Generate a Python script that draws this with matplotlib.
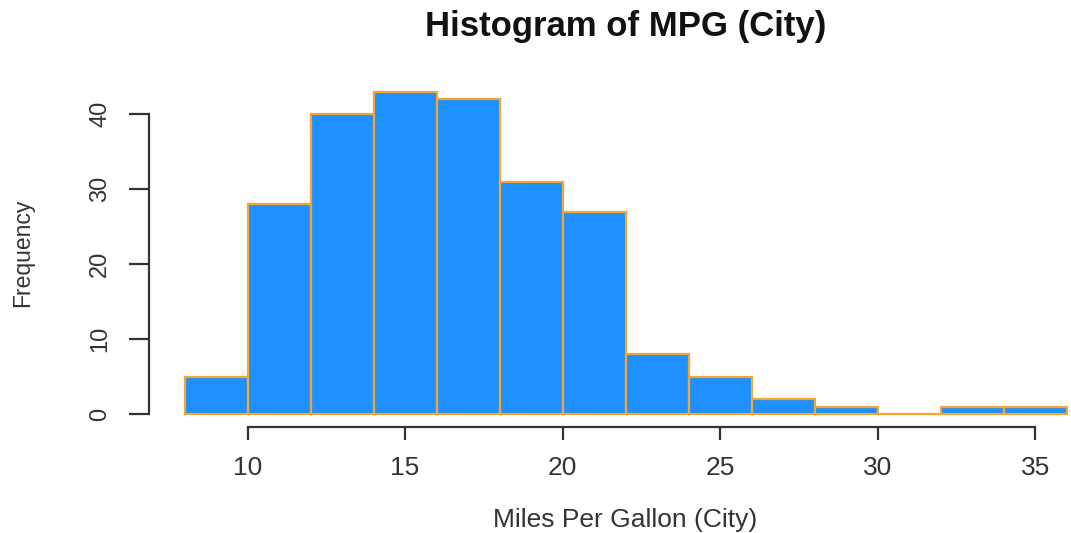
import matplotlib
matplotlib.use("Agg")
import matplotlib.pyplot as plt
import numpy as np

# Data
bin_edges = [8, 10, 12, 14, 16, 18, 20, 22, 24, 26, 28, 30, 32, 34, 36]
counts = [5, 28, 40, 43, 42, 31, 27, 8, 5, 2, 1, 0, 1, 1]
x_ticks = [10, 15, 20, 25, 30, 35]
y_ticks = [0, 10, 20, 30, 40]
title = "Histogram of MPG (City)"
xlabel = "Miles Per Gallon (City)"
ylabel = "Frequency"

plt.rcParams['font.family'] = ['Liberation Sans', 'DejaVu Sans']

W, H = 1071, 533
fig = plt.figure(figsize=(W / 100, H / 100), dpi=100)
# axes placed in pixel terms (R-style plot region, right side cropped)
left_px, right_px, top_px, bottom_px = 149.3, 1101.9, 78.6, 427.2
ax = fig.add_axes([left_px / W, 1 - bottom_px / H,
                   (right_px - left_px) / W, (bottom_px - top_px) / H])

lefts = np.array(bin_edges[:-1])
widths = np.diff(bin_edges)
ax.bar(lefts, counts, width=widths, align='edge', color='#1E90FF',
       edgecolor='#F7A531', linewidth=1.6)

xmin, xmax = bin_edges[0], bin_edges[-1]
xpad = 0.04 * (xmax - xmin)
ymax = max(counts)
ax.set_xlim(xmin - xpad, xmax + xpad)
ax.set_ylim(-0.04 * ymax, ymax * 1.04)

for s in ['top', 'right']:
    ax.spines[s].set_visible(False)
ax.spines['left'].set_bounds(y_ticks[0], y_ticks[-1])
ax.spines['bottom'].set_bounds(x_ticks[0], x_ticks[-1])
for s in ['left', 'bottom']:
    ax.spines[s].set_color('#333333')
    ax.spines[s].set_linewidth(1.6)

ax.set_xticks(x_ticks)
ax.set_yticks(y_ticks)
ax.tick_params(axis='x', length=9.5, width=1.6, color='#333333',
               labelsize=19, labelcolor='#333333', pad=11)
ax.tick_params(axis='y', length=14.5, width=1.6, color='#333333',
               labelsize=17, labelcolor='#333333', pad=13)
for lab in ax.get_yticklabels():
    lab.set_rotation(90)
    lab.set_va('center')

ax.set_xlabel(xlabel, fontsize=19, color='#333333', va='center')
ax.xaxis.set_label_coords(0.5, (bottom_px - 520) / (bottom_px - top_px))
ax.set_ylabel(ylabel, fontsize=16.5, color='#333333', va='center')
ax.yaxis.set_label_coords((23 - left_px) / (right_px - left_px), 0.5)

ax.set_title(title, fontsize=25, fontweight='bold', color='#111111',
             y=1 + (top_px - 36) / (bottom_px - top_px), pad=0)

fig.savefig("out.png", dpi=100)
